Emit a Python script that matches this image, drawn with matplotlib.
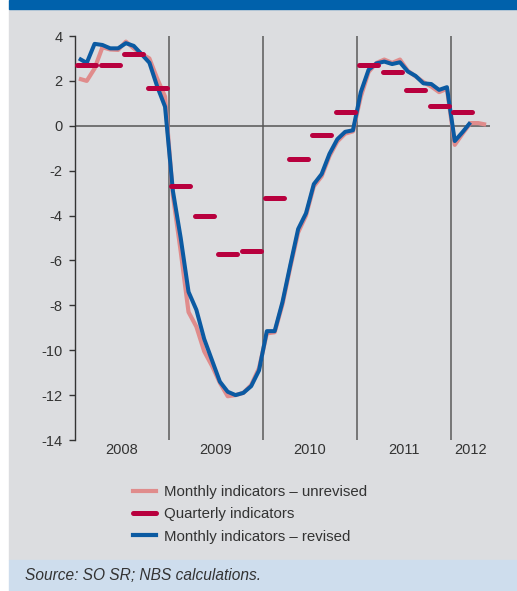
import matplotlib
matplotlib.use("Agg")
import matplotlib.pyplot as plt
from matplotlib.patches import Rectangle
from matplotlib.lines import Line2D

years = ["2008", "2009", "2010", "2011", "2012"]
year_mid = [5.5, 17.5, 29.5, 41.5, 50.0]

# monthly indicators, Jan 2008 onwards
revised = [3.0, 2.8, 3.65, 3.6, 3.45, 3.45, 3.68, 3.56, 3.19, 2.81, 1.75, 0.85,
           -2.9, -5.0, -7.4, -8.2, -9.5, -10.45, -11.4, -11.85, -12.0, -11.9, -11.6, -10.9,
           -9.15, -9.15, -7.85, -6.2, -4.6, -3.9, -2.6, -2.15, -1.25, -0.6, -0.27, -0.2,
           1.5, 2.5, 2.78, 2.86, 2.75, 2.83, 2.42, 2.22, 1.89, 1.86, 1.6, 1.72,
           -0.68, -0.28, 0.15]
unrevised = [2.1, 2.0, 2.55, 3.5, 3.4, 3.38, 3.75, 3.45, 3.2, 3.0, 2.1, 1.3,
             -3.1, -5.6, -8.3, -8.95, -10.05, -10.7, -11.45, -12.05, -12.0, -11.9, -11.55, -10.8,
             -9.25, -9.2, -7.95, -6.3, -4.75, -4.0, -2.7, -2.25, -1.35, -0.7, -0.35, -0.25,
             1.3, 2.4, 2.8, 2.95, 2.8, 2.95, 2.45, 2.2, 1.95, 1.75, 1.5, 1.65,
             -0.85, -0.35, 0.12, 0.12, 0.05]
# quarterly indicators, 2008 Q1 onwards
quarterly = [2.7, 2.7, 3.2, 1.7, -2.7, -4.0, -5.7, -5.6,
             -3.2, -1.5, -0.4, 0.6, 2.7, 2.4, 1.6, 0.9, 0.6]

labels = ["Monthly indicators \u2013 unrevised", "Quarterly indicators",
          "Monthly indicators \u2013 revised"]

c_unrev = "#e08c8c"
c_quart = "#b8003e"
c_rev = "#0b5aa2"
bg = "#dcdde0"

plt.rcParams["font.family"] = ["Liberation Sans", "DejaVu Sans"]

W, H = 517, 591
fig = plt.figure(figsize=(W / 100, H / 100), dpi=100)
fig.patch.set_facecolor("white")

# panel backgrounds
fig.add_artist(Rectangle((9 / W, 31 / H), 1 - 9 / W, (H - 31 - 9) / H,
                         transform=fig.transFigure, color=bg, zorder=0))
fig.add_artist(Rectangle((9 / W, (H - 9) / H), 1 - 9 / W, 9 / H,
                         transform=fig.transFigure, color="#0061ab", zorder=0))
fig.add_artist(Rectangle((9 / W, 0), 1 - 9 / W, 31 / H,
                         transform=fig.transFigure, color="#cedded", zorder=0))

ax = fig.add_axes([75 / W, 1 - 440 / H, 415 / W, 404 / H])
ax.set_facecolor("none")

x_unrev = list(range(len(unrevised)))
x_rev = list(range(len(revised)))

ax.plot(x_unrev, unrevised, color=c_unrev, lw=3.0, solid_capstyle="butt", zorder=3)
ax.plot(x_rev, revised, color=c_rev, lw=2.9, solid_capstyle="butt", zorder=4)

q_mid = [3 * q + 1 for q in range(len(quarterly))]
ax.hlines(quarterly, [m - 1.2 for m in q_mid], [m + 1.2 for m in q_mid],
          color=c_quart, lw=3.6, capstyle="round", zorder=5)

for b in [11.5, 23.5, 35.5, 47.5]:
    ax.axvline(b, color="#6e6e6e", lw=1.3, zorder=2)
ax.axhline(0, color="#555555", lw=1.1, zorder=2)

ax.set_xlim(-0.5, 52.5)
ax.set_ylim(-14, 4)
ax.set_yticks(range(-14, 5, 2))
ax.set_yticklabels([str(v) for v in range(-14, 5, 2)])
ax.set_xticks([])
for s in ["top", "right", "bottom"]:
    ax.spines[s].set_visible(False)
ax.spines["left"].set_color("#333333")
ax.spines["left"].set_linewidth(1.0)
ax.tick_params(axis="y", length=4, width=1, color="#333333", pad=5,
               labelsize=10.5, labelcolor="#333333")

for yr, m in zip(years, year_mid):
    ax.text(m, -14.45, yr, ha="center", va="center", fontsize=10.5, color="#333333")

handles = [Line2D([], [], color=c_unrev, lw=3),
           Line2D([], [], color=c_quart, lw=3.6, solid_capstyle="round"),
           Line2D([], [], color=c_rev, lw=3)]
fig.legend(handles, labels, loc="upper left", bbox_to_anchor=(133 / W, 1 - 485 / H),
           frameon=False, fontsize=10.8, handlelength=1.5, handletextpad=0.6,
           labelspacing=0.55, borderpad=0, borderaxespad=0, labelcolor="#333333")

fig.text(25 / W, 1 - 575 / H, "Source: SO SR; NBS calculations.", ha="left", va="center",
         fontsize=11.2, style="italic", color="#333333")

fig.savefig("out.png", dpi=100)
